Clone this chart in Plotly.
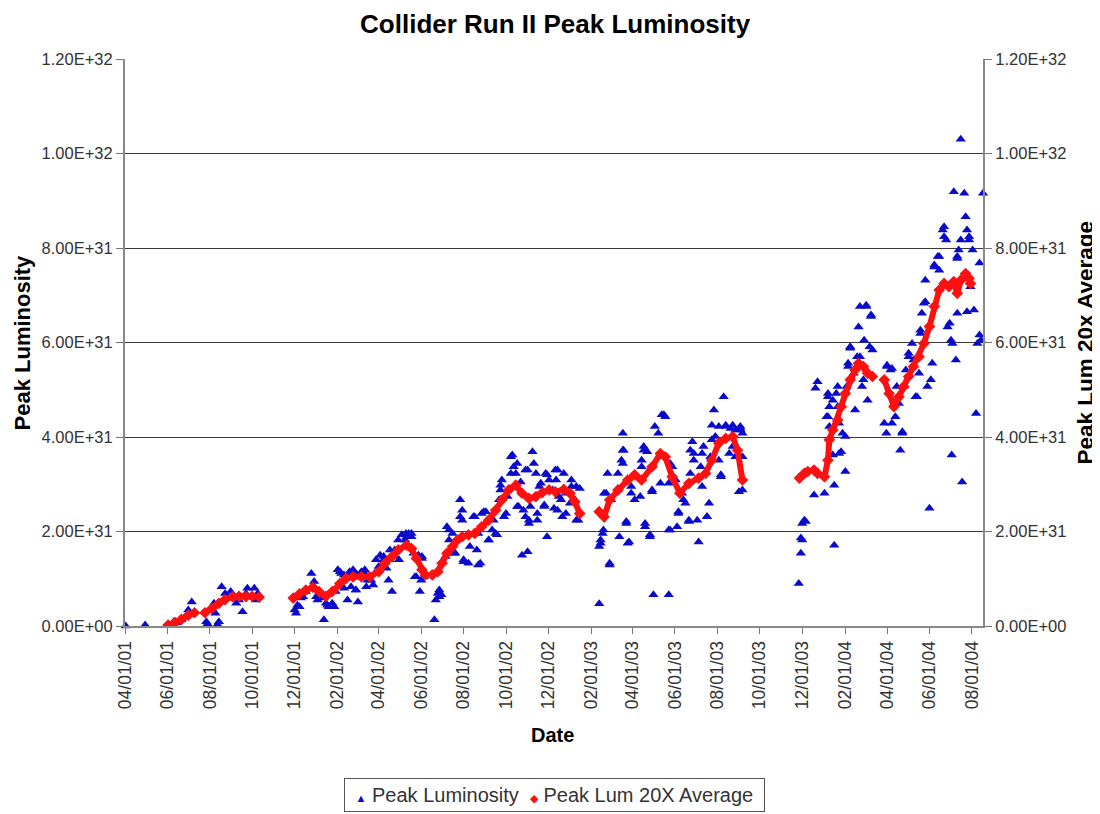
import plotly.graph_objects as go

# Peak luminosity (units of 1E+31)
lum_dates = [
    "2001-04-02", "2001-04-30", "2001-06-10", "2001-06-14", "2001-06-21", "2001-06-28",
    "2001-07-01", "2001-07-06", "2001-07-27", "2001-07-28", "2001-07-30", "2001-08-07",
    "2001-08-09", "2001-08-12", "2001-08-14", "2001-08-18", "2001-08-23", "2001-08-26",
    "2001-08-31", "2001-09-05", "2001-09-08", "2001-09-12", "2001-09-17", "2001-09-22",
    "2001-09-24", "2001-09-29", "2001-10-04", "2001-10-06", "2001-10-09",
    "2001-12-01", "2001-12-03", "2001-12-08", "2001-12-13", "2001-12-17", "2001-12-25",
    "2001-12-29", "2002-01-05", "2002-01-10", "2002-01-12", "2002-01-15", "2002-01-19",
    "2002-01-24", "2002-01-29", "2002-02-01", "2002-02-06", "2002-02-10", "2002-02-15",
    "2002-02-18", "2002-02-23", "2002-02-27", "2002-03-02", "2002-03-07", "2002-03-12",
    "2002-03-16", "2002-03-21", "2002-03-26", "2002-03-28", "2002-04-03", "2002-04-08",
    "2002-04-12", "2002-04-17", "2002-04-20", "2002-04-24", "2002-04-29", "2002-04-30",
    "2002-05-04", "2002-05-09", "2002-05-10", "2002-05-14", "2002-05-18", "2002-05-23",
    "2002-05-25", "2002-05-28", "2002-05-30", "2002-06-01", "2002-06-02", "2002-06-05",
    "2002-06-20", "2002-06-22", "2002-06-25", "2002-06-27", "2002-06-30", "2002-07-06",
    "2002-07-11", "2002-07-16", "2002-07-20", "2002-07-27", "2002-07-30", "2002-08-01",
    "2002-08-08", "2002-08-10", "2002-08-17", "2002-08-22", "2002-08-22", "2002-08-27",
    "2002-09-02", "2002-09-06", "2002-09-11", "2002-09-16", "2002-09-21", "2002-09-23",
    "2002-09-25", "2002-09-28", "2002-10-01", "2002-10-03", "2002-10-08", "2002-10-10",
    "2002-10-12", "2002-10-15", "2002-10-17", "2002-10-19", "2002-10-24", "2002-10-26",
    "2002-11-01", "2002-11-01", "2002-11-03", "2002-11-05", "2002-11-08", "2002-11-10",
    "2002-11-13", "2002-11-15", "2002-11-20", "2002-11-25", "2002-11-27", "2002-11-29",
    "2002-12-02", "2002-12-07", "2002-12-09", "2002-12-12", "2002-12-14", "2002-12-16",
    "2002-12-21", "2002-12-23", "2002-12-26", "2003-01-01", "2003-01-03", "2003-01-08",
    "2003-01-10", "2003-01-13",
    "2003-02-12", "2003-02-12", "2003-02-14", "2003-02-17", "2003-02-18", "2003-02-22",
    "2003-02-24", "2003-02-27", "2003-03-01", "2003-03-11", "2003-03-13", "2003-03-18",
    "2003-03-18", "2003-03-19", "2003-03-23", "2003-03-25", "2003-03-30", "2003-04-04",
    "2003-04-12", "2003-04-14", "2003-04-17", "2003-04-19", "2003-04-22", "2003-04-26",
    "2003-04-29", "2003-05-01", "2003-05-03", "2003-05-08", "2003-05-13", "2003-05-18",
    "2003-05-23", "2003-05-23", "2003-05-25", "2003-05-28", "2003-06-02", "2003-06-04",
    "2003-06-06", "2003-06-11", "2003-06-16", "2003-06-21", "2003-06-23", "2003-06-26",
    "2003-06-28", "2003-07-03", "2003-07-05", "2003-07-08", "2003-07-10", "2003-07-12",
    "2003-07-17", "2003-07-20", "2003-07-22", "2003-07-24", "2003-07-27", "2003-07-29",
    "2003-08-03", "2003-08-06", "2003-08-10", "2003-08-13", "2003-08-18", "2003-08-20",
    "2003-08-23", "2003-08-27", "2003-09-01", "2003-09-03", "2003-09-03", "2003-09-06",
    "2003-09-06", "2003-09-06",
    "2003-11-26", "2003-11-29", "2003-11-29", "2003-12-01", "2003-12-04", "2003-12-06",
    "2003-12-18", "2003-12-20", "2003-12-23", "2004-01-02", "2004-01-07", "2004-01-07",
    "2004-01-09", "2004-01-14", "2004-01-14", "2004-01-16", "2004-01-16", "2004-01-19",
    "2004-01-21", "2004-01-23", "2004-01-26", "2004-01-28", "2004-02-01", "2004-02-01",
    "2004-02-03", "2004-02-05", "2004-02-08", "2004-02-13", "2004-02-15", "2004-02-18",
    "2004-02-20", "2004-02-22", "2004-02-25", "2004-02-27", "2004-02-28", "2004-03-02",
    "2004-03-04", "2004-03-07", "2004-03-09", "2004-03-11",
    "2004-03-28", "2004-03-31", "2004-04-01", "2004-04-06", "2004-04-08", "2004-04-11",
    "2004-04-13", "2004-04-18", "2004-04-20", "2004-04-23", "2004-04-25", "2004-04-28",
    "2004-05-02", "2004-05-07", "2004-05-09", "2004-05-12", "2004-05-17", "2004-05-19",
    "2004-05-21", "2004-05-24", "2004-05-26", "2004-05-29", "2004-06-01", "2004-06-03",
    "2004-06-05", "2004-06-08", "2004-06-13", "2004-06-15", "2004-06-20", "2004-06-22",
    "2004-06-25", "2004-06-27", "2004-07-03", "2004-07-02", "2004-07-04", "2004-07-06",
    "2004-07-09", "2004-07-11", "2004-07-11", "2004-07-13", "2004-07-16", "2004-07-18",
    "2004-07-16", "2004-07-21", "2004-07-23", "2004-07-25", "2004-07-28", "2004-07-30",
    "2004-08-02", "2004-08-04", "2004-08-07", "2004-08-09", "2004-08-12", "2004-08-14",
    "2004-08-17",
    # denser stores around the average line
    "2001-12-05", "2001-12-10", "2001-12-29", "2002-01-01", "2002-01-03", "2002-01-17",
    "2002-01-27", "2002-02-04", "2002-02-10", "2002-02-18", "2002-02-20", "2002-02-27",
    "2002-02-27", "2002-03-10", "2002-03-14", "2002-03-24", "2002-04-01", "2002-04-08",
    "2002-04-17", "2002-04-15", "2002-04-24", "2002-05-11", "2002-05-18", "2002-05-21",
    "2002-06-02",
    "2002-06-27", "2002-07-08", "2002-07-11", "2002-07-18", "2002-07-27", "2002-07-30",
    "2002-08-01", "2002-08-15", "2002-08-20", "2002-08-25", "2002-08-30", "2002-09-06",
    "2002-09-13", "2002-09-18", "2002-09-23", "2002-10-08", "2002-10-17", "2002-10-22",
    "2002-10-29", "2002-10-29", "2002-11-03", "2002-11-15", "2002-11-18", "2002-11-25",
    "2002-11-29", "2002-12-11", "2002-12-14", "2002-12-19", "2002-12-26", "2003-01-03",
    "2003-01-10", "2003-01-15",
    "2003-02-14", "2003-02-19", "2003-02-27", "2003-03-16", "2003-03-18", "2003-03-23",
    "2003-03-27", "2003-03-30", "2003-04-14", "2003-04-17", "2003-04-19", "2003-04-26",
    "2003-04-29", "2003-05-11", "2003-05-16", "2003-05-23", "2003-05-25", "2003-06-06",
    "2003-06-13", "2003-06-21", "2003-06-23", "2003-06-28", "2003-07-10", "2003-07-17",
    "2003-07-24", "2003-08-03", "2003-08-06", "2003-08-13", "2003-08-23", "2003-08-27",
    "2003-09-03",
    "2003-12-01", "2004-01-05", "2004-01-07", "2004-01-09", "2004-01-21", "2004-01-23",
    "2004-02-05", "2004-02-08", "2004-02-22", "2004-03-02", "2004-03-09",
    "2004-04-01", "2004-04-08", "2004-04-15", "2004-04-23", "2004-05-02", "2004-05-14",
    "2004-05-19", "2004-05-26", "2004-06-08", "2004-06-15", "2004-06-22", "2004-06-30",
    "2004-07-11", "2004-07-25", "2004-07-28", "2004-08-12",
]
lum_e31 = [
    0.00, 0.02, 0.09, 0.07, 0.13, 0.20,
    0.34, 0.51, 0.09, 0.03, 0.02, 0.48,
    0.27, 0.03, 0.09, 0.83, 0.69, 0.59,
    0.73, 0.62, 0.48, 0.55, 0.30, 0.69,
    0.80, 0.62, 0.80, 0.55, 0.69,
    0.34, 0.27, 0.41, 0.62, 0.73, 1.11,
    0.83, 0.69, 0.59, 0.13, 0.48, 0.41,
    0.48, 0.73, 1.19, 1.11, 0.80, 0.55,
    1.11, 1.19, 0.76, 0.51, 1.15, 1.19,
    0.97, 0.97, 1.11, 1.40, 1.50, 1.40,
    1.22, 1.61, 0.73, 1.47, 1.82, 1.40,
    1.93, 1.82, 1.96, 1.96, 1.89, 1.04,
    1.04, 1.50, 0.73, 0.97, 1.47, 1.04,
    0.13, 0.55, 0.69, 0.76, 0.66, 1.47,
    2.03, 1.96, 1.54, 2.67, 2.24, 1.36,
    1.33, 1.68, 2.31, 1.96, 1.29, 2.38,
    2.42, 1.82, 2.03, 1.96, 2.67, 2.98,
    3.09, 2.31, 2.38, 2.74, 3.23, 3.62,
    3.37, 3.23, 3.44, 2.53, 1.50, 2.45,
    1.57, 3.30, 2.24, 2.53, 3.69, 3.44,
    3.23, 2.38, 3.02, 2.53, 3.23, 1.89,
    3.09, 2.88, 2.49, 3.09, 3.30, 2.74,
    2.31, 3.23, 2.81, 2.60, 3.09, 2.67,
    2.95, 2.24,
    0.47, 1.68, 1.82, 1.96, 2.03, 2.81,
    3.23, 1.29, 2.67, 3.23, 1.89, 3.44,
    4.08, 3.72, 2.21, 1.75, 2.95, 2.67,
    2.74, 3.37, 3.80, 2.10, 3.69, 1.89,
    2.88, 0.66, 4.22, 4.08, 4.47, 4.43,
    0.66, 3.02, 2.03, 3.37, 3.09, 2.10,
    2.38, 2.81, 2.60, 2.24, 3.23, 3.90,
    3.65, 2.24, 1.78, 3.37, 2.95, 3.80,
    2.31, 2.60, 3.58, 4.25, 4.57, 4.01,
    4.22, 3.16, 4.85, 4.22, 3.65, 4.18,
    3.80, 4.15, 2.84, 4.18, 4.22, 4.08,
    3.58, 2.88,
    0.90, 1.54, 1.86, 2.17, 2.24, 2.21,
    2.77, 5.03, 5.17, 2.81, 4.92, 4.43,
    4.22, 3.62, 4.78, 2.98, 1.71, 4.92,
    4.64, 4.29, 3.69, 4.08, 3.27, 4.01,
    5.07, 5.49, 5.91, 5.35, 4.57, 5.70,
    6.33, 5.70, 5.07, 5.21, 6.05, 6.76,
    4.78, 5.91, 6.55, 5.84,
    4.29, 4.08, 5.49, 5.42, 4.29, 4.71,
    4.43, 4.71, 3.72, 4.08, 5.07, 5.42,
    5.77, 5.98, 5.63, 4.85, 5.35, 6.19,
    6.62, 6.83, 7.32, 5.07, 2.49, 5.21,
    5.56, 7.60, 7.82, 7.53, 8.38, 8.24,
    8.17, 6.33, 3.62, 6.05, 5.98, 9.19,
    5.63, 6.62, 7.82, 7.96, 8.17, 3.05,
    10.30, 9.16, 8.66, 8.38, 8.17, 7.18,
    7.96, 6.69, 4.50, 5.98, 7.68, 6.05,
    9.16,
    0.44, 0.59, 0.94, 0.62, 0.55, 0.44,
    0.41, 1.15, 1.08, 1.15, 0.83, 1.11,
    0.76, 1.15, 0.83, 0.87, 1.26, 1.47,
    1.40, 0.97, 1.61, 1.89, 1.96, 1.54,
    1.43,
    0.62, 2.10, 1.82, 1.54, 2.31, 2.45,
    1.40, 2.31, 1.61, 1.33, 2.42, 1.82,
    2.24, 1.93, 2.88, 3.58, 2.53, 3.05,
    3.30, 2.31, 2.17, 2.24, 2.95, 2.56,
    3.20, 3.30, 2.45, 2.67, 2.38, 2.95,
    2.24, 2.91,
    1.75, 2.81, 1.33, 3.51, 3.72, 2.17,
    1.78, 2.81, 3.51, 3.72, 2.17, 1.93,
    2.84, 3.02, 4.47, 2.03, 3.44, 2.42,
    2.67, 2.21, 3.72, 3.51, 3.65, 2.31,
    3.94, 3.51, 3.20, 4.25, 4.25, 3.58,
    4.15,
    1.82, 4.43, 4.85, 4.64, 5.07, 3.65,
    5.56, 5.88, 6.76, 6.79, 6.58,
    5.52, 5.45, 5.07, 4.11, 5.70, 4.85,
    6.26, 6.86, 7.64, 7.82, 8.45, 6.41,
    7.78, 6.65, 8.24, 6.16,
]

# Peak Lum 20X average (units of 1E+31); None marks a gap in running
avg_dates = [
    "2001-06-02", "2001-06-12", "2001-06-21", "2001-07-01", "2001-07-10", None,
    "2001-07-25", "2001-08-04", "2001-08-14", "2001-08-23", "2001-09-03", "2001-09-12",
    "2001-09-22", "2001-10-01", "2001-10-11", None,
    "2001-11-29", "2001-12-08", "2001-12-17", "2001-12-27", "2002-01-05", "2002-01-15",
    "2002-01-24", "2002-02-04", "2002-02-13", "2002-02-23", "2002-03-07", "2002-03-19",
    "2002-04-01", "2002-04-10", "2002-04-20", "2002-04-29", "2002-05-11", "2002-05-18",
    "2002-05-25", "2002-06-02", "2002-06-07", None,
    "2002-06-17", "2002-06-25", "2002-07-01", "2002-07-08", "2002-07-16", "2002-07-23",
    "2002-07-30", "2002-08-08", "2002-08-17", "2002-08-27", "2002-09-06", "2002-09-16",
    "2002-09-25", "2002-10-05", "2002-10-15", "2002-10-24", "2002-11-03", "2002-11-13",
    "2002-11-22", "2002-12-02", "2002-12-11", "2002-12-23", "2003-01-01", "2003-01-08",
    "2003-01-15", None,
    "2003-02-12", "2003-02-19", "2003-02-27", "2003-03-11", "2003-03-25", "2003-04-04",
    "2003-04-14", "2003-04-29", "2003-05-11", "2003-05-18", "2003-05-28", "2003-06-08",
    "2003-06-21", "2003-07-05", "2003-07-15", "2003-07-24", "2003-08-03", "2003-08-13",
    "2003-08-23", "2003-08-30", "2003-09-06", None,
    "2003-11-27", "2003-12-04", "2003-12-09", None,
    "2003-12-18", "2003-12-23", "2004-01-02", "2004-01-07", "2004-01-09", "2004-01-14",
    "2004-01-21", "2004-01-26", "2004-02-01", "2004-02-08", "2004-02-15", "2004-02-20",
    "2004-02-27", "2004-03-04", "2004-03-11", None,
    "2004-03-28", "2004-04-04", "2004-04-11", "2004-04-18", "2004-04-25", "2004-05-02",
    "2004-05-09", "2004-05-17", "2004-05-24", "2004-06-01", "2004-06-08", "2004-06-15",
    "2004-06-22", "2004-06-29", "2004-07-06", "2004-07-11", "2004-07-16", "2004-07-23",
    "2004-07-28", "2004-07-30",
]
avg_e31 = [
    0.02, 0.07, 0.14, 0.23, 0.28, None,
    0.28, 0.37, 0.48, 0.56, 0.62, 0.63,
    0.62, 0.63, 0.61, None,
    0.59, 0.68, 0.76, 0.82, 0.73, 0.63,
    0.73, 0.90, 1.01, 1.04, 1.04, 1.04,
    1.15, 1.33, 1.47, 1.61, 1.71, 1.64,
    1.43, 1.19, 1.08, None,
    1.08, 1.15, 1.33, 1.54, 1.68, 1.82,
    1.89, 1.93, 1.96, 2.10, 2.24, 2.45,
    2.67, 2.88, 2.98, 2.81, 2.70, 2.74,
    2.82, 2.88, 2.84, 2.89, 2.81, 2.63,
    2.38, None,
    2.42, 2.31, 2.67, 2.88, 3.09, 3.20,
    3.09, 3.37, 3.65, 3.58, 3.16, 2.81,
    3.02, 3.13, 3.23, 3.51, 3.87, 3.97,
    4.01, 3.72, 3.09, None,
    3.13, 3.23, 3.27, None,
    3.30, 3.23, 3.16, 3.51, 3.94, 4.15,
    4.36, 4.64, 4.92, 5.21, 5.42, 5.56,
    5.49, 5.35, 5.28, None,
    5.21, 4.92, 4.64, 4.85, 5.07, 5.28,
    5.49, 5.70, 5.98, 6.34, 6.76, 7.11,
    7.25, 7.18, 7.29, 7.04, 7.32, 7.46,
    7.36, 7.25,
]

y_ticks = [0, 2e31, 4e31, 6e31, 8e31, 1e32, 1.2e32]
y_tick_text = ["0.00E+00", "2.00E+31", "4.00E+31", "6.00E+31", "8.00E+31", "1.00E+32", "1.20E+32"]

lum = [v * 1e31 for v in lum_e31]
avg = [None if v is None else v * 1e31 for v in avg_e31]

BLUE = "#0a0acc"
RED = "#ff1010"

fig = go.Figure()

fig.add_trace(go.Scatter(
    x=lum_dates, y=lum, mode="markers", name="Peak Luminosity",
    marker=dict(symbol="triangle-up", size=9, color=BLUE),
    cliponaxis=False, showlegend=False,
))

# thick red band of the running average, diamonds on top
fig.add_trace(go.Scatter(
    x=avg_dates, y=avg, mode="lines+markers", yaxis="y2", name="Peak Lum 20X Average",
    line=dict(color=RED, width=6), connectgaps=False,
    marker=dict(symbol="diamond", size=9, color=RED),
    showlegend=False,
))

tick_font = dict(family="Arial, Liberation Sans", size=16.5, color="#333333")

# page body adds an 8px margin, so the figure is 1092x806
fig.update_layout(
    width=1092, height=806,
    margin=dict(l=117, r=117, t=51, b=188),
    plot_bgcolor="white", paper_bgcolor="white",
    font=dict(family="Arial, Liberation Sans", color="black"),
    title=dict(text="<b>Collider Run II Peak Luminosity</b>", x=0.501, xanchor="center",
               y=0.980, yanchor="middle", font=dict(size=26, color="black")),
    xaxis=dict(
        type="date", range=["2001-04-01", "2004-08-17"],
        tick0="2001-04-01", dtick="M2", tickformat="%m/%d/%y", tickangle=-90,
        ticks="outside", ticklen=6, tickcolor="#777777",
        tickfont=dict(family="Arial, Liberation Sans", size=17.5, color="#333333"),
        showgrid=False, showline=True, linecolor="#888888", linewidth=2,
        zeroline=False, automargin=False,
    ),
    yaxis=dict(
        range=[0, 1.2e32], tickvals=y_ticks, ticktext=y_tick_text,
        ticks="outside", ticklen=7, tickcolor="#777777", tickfont=tick_font,
        showgrid=True, gridcolor="#3a3a3a", gridwidth=1,
        showline=True, linecolor="#888888", linewidth=2, zeroline=False,
        automargin=False,
    ),
    yaxis2=dict(
        range=[0, 1.2e32], tickvals=y_ticks, ticktext=y_tick_text,
        overlaying="y", side="right",
        ticks="outside", ticklen=7, tickcolor="#777777", tickfont=tick_font,
        showgrid=False, showline=True, linecolor="#888888", linewidth=2, zeroline=False,
        automargin=False,
    ),
    showlegend=False,
)

# axis titles
fig.add_annotation(text="<b>Peak Luminosity</b>", xref="paper", yref="paper",
                   x=-0.1189, y=0.5, xanchor="center", yanchor="middle",
                   textangle=-90, showarrow=False,
                   font=dict(size=22, color="black"))
fig.add_annotation(text="<b>Peak Lum 20x Average</b>", xref="paper", yref="paper",
                   x=1.12, y=0.5, xanchor="center", yanchor="middle",
                   textangle=-90, showarrow=False,
                   font=dict(size=22.5, color="black"))
fig.add_annotation(text="<b>Date</b>", xref="paper", yref="paper",
                   x=0.498, y=-0.192, xanchor="center", yanchor="middle",
                   showarrow=False, font=dict(size=20, color="black"))

# boxed legend under the chart
legend_text = (
    f"&nbsp;<span style='font-size:11px;color:{BLUE}'>▲</span> Peak Luminosity&nbsp;&nbsp;"
    f"<span style='font-size:11px;color:{RED}'>◆</span> Peak Lum 20X Average&nbsp;"
)
fig.add_annotation(text=legend_text, xref="paper", yref="paper",
                   x=0.501, y=-0.298, xanchor="center", yanchor="middle",
                   showarrow=False, font=dict(size=20, color="#333333"),
                   bordercolor="#555555", borderwidth=1, borderpad=5, bgcolor="white")

fig.write_html("out.html")
